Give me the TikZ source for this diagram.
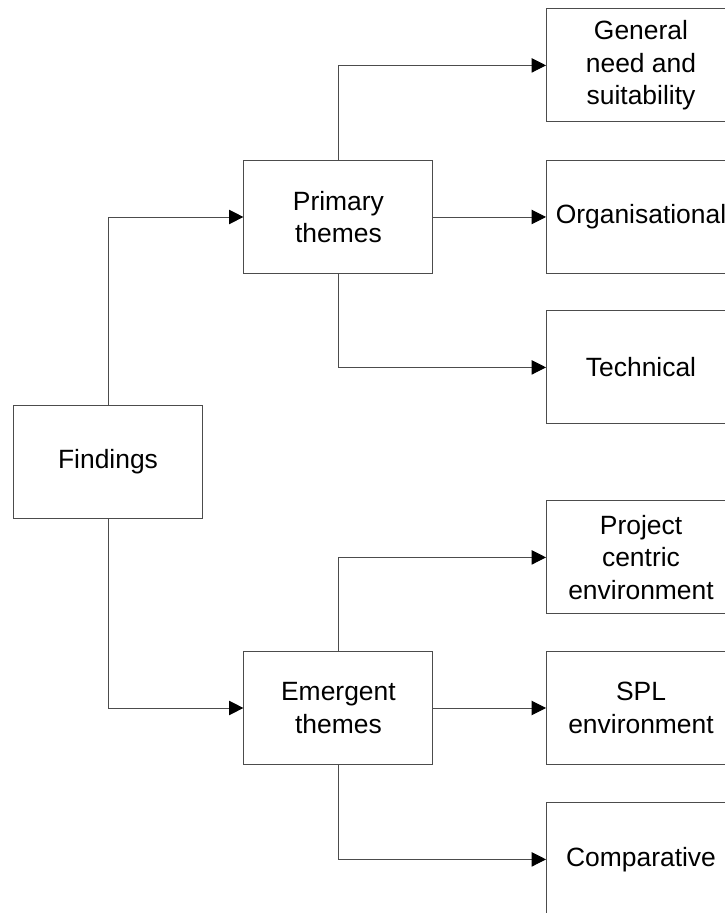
\documentclass[tikz,border=0pt]{standalone}
\usepackage{fontspec}
\setmainfont{Liberation Sans}
\usepackage{xcolor}
\usetikzlibrary{arrows.meta, positioning, calc}
\definecolor{edgegray}{rgb}{0.3,0.3,0.3}

\begin{document}
\begin{tikzpicture}[
    theme/.style={rectangle, draw=edgegray, line width=0.7pt, minimum width=4.725cm, minimum height=2.825cm, align=center, font=\fontsize{18.8}{23}\selectfont, inner sep=0pt},
    arrow/.style={-{Triangle[length=0.36cm, width=0.36cm, color=black]}, draw=edgegray, line width=0.7pt}
]
\useasboundingbox (0,0) rectangle (18.125,22.825);
\clip (0,0) rectangle (18.125,22.825);

% Main boxes
\node[theme] (find) at (2.7,11.275) {Findings};
\node[theme] (prim) at (8.46,17.4) {Primary\\themes};
\node[theme] (emer) at (8.46,5.125) {Emergent\\themes};

% Primary themes (right column)
\node[theme] (gen) at (16.025,21.19) {General\\need and\\suitability};
\node[theme] (org) at (16.025,17.4) {Organisational};
\node[theme] (tech) at (16.025,13.64) {Technical};

% Emergent themes (right column)
\node[theme] (proj) at (16.025,8.89) {Project\\centric\\environment};
\node[theme] (spl) at (16.025,5.125) {SPL\\environment};
\node[theme] (comp) at (16.025,1.34) {Comparative};

% Connectors
\draw[arrow] (find.north) |- (prim.west);
\draw[arrow] (find.south) |- (emer.west);
\draw[arrow] (prim.north) |- (gen.west);
\draw[arrow] (prim.east) -- (org.west);
\draw[arrow] (prim.south) |- (tech.west);
\draw[arrow] (emer.north) |- (proj.west);
\draw[arrow] (emer.east) -- (spl.west);
\draw[arrow] (emer.south) |- (comp.west);

\end{tikzpicture}
\end{document}
